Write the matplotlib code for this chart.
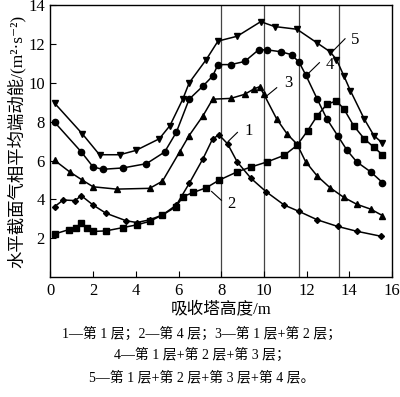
import matplotlib
matplotlib.use("Agg")
import matplotlib.pyplot as plt

plt.rcParams['font.family'] = ['Liberation Serif', 'Noto Sans CJK SC', 'DejaVu Sans']

# Series 1: layer 1 (diamonds)
x1 = [0.2, 0.6, 1.15, 1.45, 2.0, 2.6, 3.55, 4.05, 4.65, 5.25, 5.9, 6.5, 7.15, 7.6, 7.9, 8.3, 8.75, 9.4, 10.1, 10.95, 11.65, 12.5, 13.45, 14.35, 15.5]
y1 = [3.63, 3.97, 3.94, 4.19, 3.71, 3.29, 2.9, 2.81, 2.95, 3.2, 3.71, 4.82, 6.1, 7.12, 7.32, 6.86, 5.93, 5.08, 4.4, 3.71, 3.38, 2.95, 2.61, 2.36, 2.1]
# Series 2: layer 4 (squares)
x2 = [0.2, 0.85, 1.2, 1.45, 1.7, 2.0, 2.6, 3.4, 4.05, 4.65, 5.25, 5.9, 6.2, 6.7, 7.3, 7.9, 8.75, 9.4, 10.15, 10.95, 11.55, 12.05, 12.5, 12.95, 13.4, 13.75, 14.2, 14.7, 15.15, 15.55]
y2 = [2.22, 2.44, 2.52, 2.78, 2.55, 2.35, 2.38, 2.55, 2.69, 2.87, 3.2, 3.63, 4.14, 4.36, 4.6, 4.99, 5.42, 5.67, 5.93, 6.27, 6.78, 7.54, 8.31, 8.9, 9.07, 8.65, 7.8, 7.12, 6.69, 6.3]
# Series 3: layer 1 + 2 (triangles)
x3 = [0.2, 0.9, 1.5, 2.0, 3.1, 4.65, 5.25, 6.05, 6.5, 7.15, 7.6, 8.45, 9.1, 9.55, 9.8, 10.0, 10.6, 11.1, 11.55, 11.95, 12.5, 13.1, 13.75, 14.35, 15.0, 15.55]
y3 = [6.01, 5.42, 4.99, 4.65, 4.53, 4.57, 4.94, 6.44, 7.29, 8.31, 9.16, 9.2, 9.41, 9.7, 9.8, 9.41, 8.14, 7.35, 6.85, 5.95, 5.2, 4.6, 4.1, 3.75, 3.5, 3.17]
# Series 4: layer 1 + 2 + 3 (circles)
x4 = [0.2, 1.45, 2.0, 2.45, 3.4, 4.5, 5.35, 5.9, 6.5, 7.15, 7.6, 7.85, 8.45, 9.1, 9.75, 10.15, 10.8, 11.3, 11.65, 11.95, 12.5, 12.95, 13.45, 13.9, 14.35, 15.0, 15.55]
y4 = [7.97, 6.44, 5.67, 5.55, 5.62, 5.84, 6.44, 7.46, 9.16, 9.84, 10.35, 10.94, 10.94, 11.1, 11.7, 11.7, 11.6, 11.45, 11.06, 10.43, 9.16, 8.14, 7.29, 6.52, 5.93, 5.42, 4.87]
# Series 5: layer 1 + 2 + 3 + 4 (inverted triangles)
x5 = [0.2, 1.5, 2.3, 3.25, 4.0, 5.1, 5.6, 6.2, 6.5, 7.3, 7.85, 8.75, 9.85, 10.5, 11.55, 12.5, 13.1, 13.4, 13.75, 14.05, 14.7, 15.15, 15.55]
y5 = [8.95, 7.37, 6.3, 6.3, 6.52, 7.12, 7.8, 9.16, 10.0, 11.2, 12.15, 12.4, 13.15, 12.9, 12.76, 12.05, 11.6, 11.2, 10.35, 9.6, 8.14, 7.29, 6.9]

vlines = [8.0, 10.0, 11.65, 13.52]
xticks = [0, 2, 4, 6, 8, 10, 12, 14, 16]
yticks = [2, 4, 6, 8, 10, 12, 14]

fig = plt.figure(figsize=(4.0, 3.97), dpi=100)
ax = fig.add_axes([0.126, 0.302, 0.854, 0.685])

for xv in vlines:
    ax.axvline(xv, color='#444444', lw=0.9, zorder=1)

style = dict(color='black', lw=1.1, zorder=3)
ax.plot(x1, y1, marker='D', ms=3.0, **style)
ax.plot(x2, y2, marker='s', ms=4.2, **style)
ax.plot(x3, y3, marker='^', ms=4.2, **style)
ax.plot(x4, y4, marker='o', ms=4.5, **style)
ax.plot(x5, y5, marker='v', ms=4.2, **style)

# labels with leader lines
labels = [
    ('1', (8.34, 7.0), (8.76, 7.45), (9.1, 7.5)),
    ('2', (7.55, 4.41), (8.01, 3.95), (8.3, 3.75)),
    ('3', (10.1, 9.3), (10.6, 9.75), (10.95, 10.0)),
    ('4', (12.03, 10.43), (12.6, 11.04), (12.9, 10.9)),
    ('5', (13.2, 11.6), (13.8, 12.27), (14.1, 12.2)),
]
for t, p0, p1, pt in labels:
    ax.plot([p0[0], p1[0]], [p0[1], p1[1]], color='black', lw=0.8, zorder=4)
    ax.text(pt[0], pt[1], t, fontsize=12, ha='left', va='center', zorder=5)

ax.set_xlim(0, 16)
ax.set_ylim(0, 14)
ax.set_xticks(xticks)
ax.set_yticks(yticks)
ax.tick_params(direction='in', labelsize=12, length=4, width=0.8, pad=4)
for s in ax.spines.values():
    s.set_linewidth(1.0)

ax.set_xlabel('吸收塔高度/m', fontsize=12, labelpad=2)
ax.set_ylabel('水平截面气相平均端动能/(m²·s⁻²)', fontsize=12.5, labelpad=2)

fig.text(0.505, 0.160, '1—第 1 层；2—第 4 层；3—第 1 层+第 2 层；', fontsize=10, ha='center', va='center')
fig.text(0.505, 0.105, '4—第 1 层+第 2 层+第 3 层；', fontsize=10, ha='center', va='center')
fig.text(0.505, 0.050, '5—第 1 层+第 2 层+第 3 层+第 4 层。', fontsize=10, ha='center', va='center')

fig.savefig('out.png', dpi=100)
